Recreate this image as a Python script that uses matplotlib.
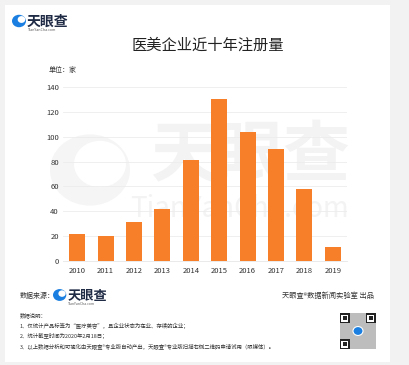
import matplotlib.pyplot as plt
from matplotlib.patches import Rectangle, Circle

plt.rcParams['font.family'] = ['Noto Sans CJK SC', 'DejaVu Sans']

years = ['2010', '2011', '2012', '2013', '2014', '2015', '2016', '2017', '2018', '2019']
counts = [22, 20, 31, 42, 81, 130, 104, 90, 58, 11]
yticks = [0, 20, 40, 60, 80, 100, 120, 140]

W, H = 410, 365


def fx(x):
    return x / W


def fy(y):
    return 1 - y / H


fig = plt.figure(figsize=(4.1, 3.65), dpi=100)
fig.patch.set_facecolor('#f2f2f2')

# white card
card = Rectangle((fx(5), fy(362)), fx(385), (357) / H, transform=fig.transFigure,
                 facecolor='white', edgecolor='none', zorder=-5)
fig.patches.append(card)


def logo(x, y, size=1.0):
    # blue swirl + name
    r = 7 * size
    c = Circle((fx(x + r), fy(y)), r / W, transform=fig.transFigure,
               facecolor='#1a7fe0', edgecolor='none', zorder=3)
    fig.patches.append(c)
    c2 = Circle((fx(x + r + 2.5 * size), fy(y - 1.5 * size)), r * 0.55 / W, transform=fig.transFigure,
                facecolor='white', edgecolor='none', zorder=4)
    fig.patches.append(c2)
    fig.text(fx(x + 2 * r + 1), fy(y + 1), '天眼查', fontsize=10 * size, color='#1f2a44',
             ha='left', va='center', fontweight='bold')
    fig.text(fx(x + 2 * r + 2), fy(y + 9 * size), 'TianYanCha.com', fontsize=2.6 * size,
             color='#555555', ha='left', va='center')


logo(12, 21)

fig.text(fx(208), fy(45), '医美企业近十年注册量', fontsize=11, color='#222222',
         ha='center', va='center')
fig.text(fx(49), fy(70), '单位：家', fontsize=5, color='#333333', ha='left', va='center')

# faint watermark swirl (figure pixels so it stays round)
for (cx, cy, rr, col) in [(90, 170, 40, '#f5f5f5'), (100, 164, 26, 'white')]:
    fig.patches.append(Circle((fx(cx), fy(cy)), rr / W, transform=fig.transFigure,
                              facecolor=col, edgecolor='none', zorder=-4))

ax = fig.add_axes([fx(63), fy(261), 284 / W, (261 - 87) / H])
ax.set_facecolor('none')

ax.text(0.66, 0.6, '天眼查', transform=ax.transAxes, fontsize=48, color='#f3f3f3',
        ha='center', va='center', fontweight='bold', zorder=0)
ax.text(0.62, 0.3, 'TianYanCha.com', transform=ax.transAxes, fontsize=20, color='#f3f3f3',
        ha='center', va='center', zorder=0)

ax.bar(range(len(years)), counts, width=0.57, color='#f77f29', zorder=3)
ax.set_xlim(-0.5, len(years) - 0.5)
ax.set_ylim(0, 140)
ax.set_yticks(yticks)
ax.set_xticks(range(len(years)))
ax.set_xticklabels(years)
ax.grid(axis='y', color='#ececec', linewidth=0.6, zorder=1)
ax.set_axisbelow(True)
for s in ax.spines.values():
    s.set_visible(False)
ax.spines['bottom'].set_visible(True)
ax.spines['bottom'].set_color('#e6e6e6')
ax.spines['bottom'].set_linewidth(0.6)
ax.tick_params(axis='both', length=0, labelsize=5.5, colors='#333333')
ax.tick_params(axis='y', pad=3)
ax.tick_params(axis='x', pad=4)

# footer
fig.text(fx(20), fy(296), '数据来源：', fontsize=5, color='#333333', ha='left', va='center')
logo(53, 295, 0.95)
fig.text(fx(374), fy(296), '天眼查®数据新闻实验室 出品', fontsize=5.2, color='#333333',
         ha='right', va='center')

notes = ['数据说明：',
         '1、仅统计产品标签为“医疗美容”，且企业状态为在业、存续的企业；',
         '2、统计截至时间为2020年2月18日；',
         '3、以上数据分析和可视化由天眼查®专业版自动产出，天眼查®专业版扫描右侧二维码申请试用（限媒体）。']
for i, line in enumerate(notes):
    fig.text(fx(20), fy(315 + i * 10.5), line, fontsize=3.9, color='#333333',
             ha='left', va='center')

# QR-code placeholder
qx, qy, qs = 340, 313, 36
qr = Rectangle((fx(qx), fy(qy + qs)), qs / W, qs / H, transform=fig.transFigure,
               facecolor='#bdbdbd', edgecolor='none', hatch='++++', zorder=2)
fig.patches.append(qr)
for dx, dy in [(0, 0), (qs - 10, 0), (0, qs - 10)]:
    outer = Rectangle((fx(qx + dx), fy(qy + dy + 10)), 10 / W, 10 / H, transform=fig.transFigure,
                      facecolor='#222222', edgecolor='none', zorder=3)
    mid = Rectangle((fx(qx + dx + 1.5), fy(qy + dy + 8.5)), 7 / W, 7 / H, transform=fig.transFigure,
                    facecolor='white', edgecolor='none', zorder=4)
    inner = Rectangle((fx(qx + dx + 3), fy(qy + dy + 7)), 4 / W, 4 / H, transform=fig.transFigure,
                      facecolor='#222222', edgecolor='none', zorder=5)
    fig.patches.extend([outer, mid, inner])
qc = Circle((fx(qx + qs / 2), fy(qy + qs / 2)), 5 / W, transform=fig.transFigure,
            facecolor='#1a7fe0', edgecolor='white', linewidth=0.8, zorder=5)
fig.patches.append(qc)

fig.savefig('out.png', dpi=100, facecolor=fig.get_facecolor())
